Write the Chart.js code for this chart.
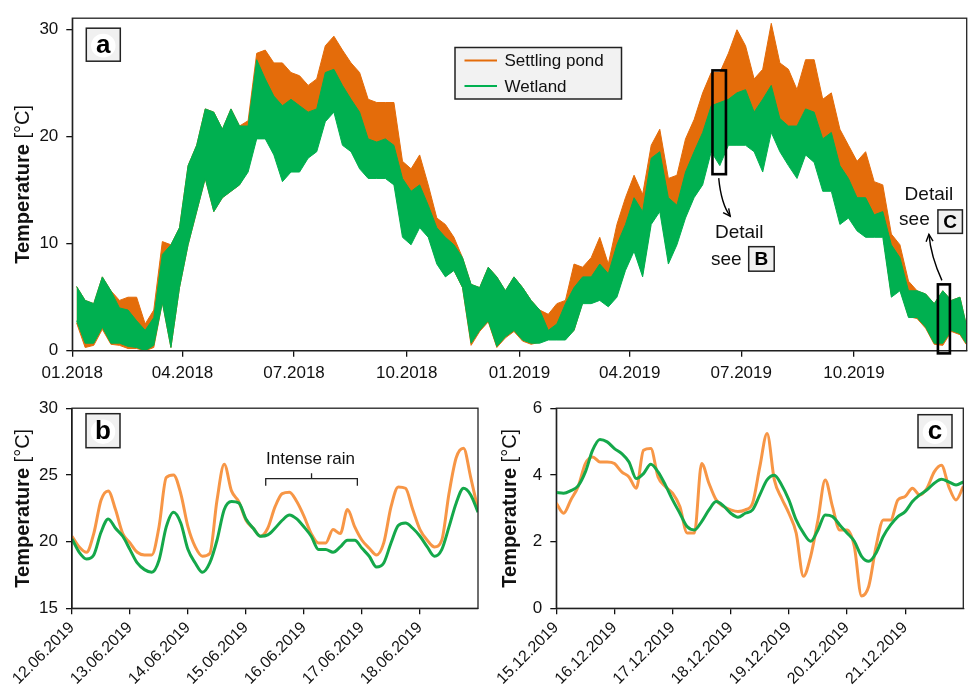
<!DOCTYPE html>
<html>
<head>
<meta charset="utf-8">
<script src="https://cdn.jsdelivr.net/npm/chart.js@4.4.1/dist/chart.umd.min.js"></script>
<style>
  html, body { margin: 0; padding: 0; background: #fff; }
  #wrap { position: relative; width: 968px; height: 693px; overflow: hidden; background: #fff; }
  canvas { position: absolute; }
</style>
</head>
<body>
<div id="wrap">
  <canvas id="chartA" width="968" height="385" style="left:0;top:0"></canvas>
  <canvas id="chartB" width="485" height="303" style="left:0;top:390px"></canvas>
  <canvas id="chartC" width="484" height="303" style="left:484px;top:390px"></canvas>
</div>
<script>
// ---- panel a: weekly envelopes (day 0 = 01.01.2018), one value per week ----
const pondHighA = [6.0,4.7,4.4,6.9,5.6,4.7,5.0,5.0,2.5,3.8, 10.2,9.9,11.5,17.3,19.2,22.6,22.3,20.7,22.6,21.0,
  21.5,27.8,28.1,26.9,26.9,26.0,25.7,24.8,25.4,28.5, 29.4,28.1,26.9,26.0,23.5,23.2,23.2,23.2,17.7,17.0,
  18.3,15.5,12.4,11.8,10.6,8.7,6.2,5.9,7.8,6.9, 5.6,6.9,5.9,4.7,3.8,3.4,4.4,4.7,8.1,7.8,
  8.7,10.6,8.1,11.8,14.3,16.4,14.6,19.2,20.7,16.1, 16.4,19.8,21.6,24.1,26.0,26.0,27.8,30.0,28.5,25.4,
  26.3,30.6,26.9,26.3,24.4,27.2,27.2,23.5,24.1,20.7, 19.2,17.7,18.6,15.8,15.5,10.9,9.9,6.5,5.6,5.3,
  4.4,5.6,4.7,5.0,2.5];
const pondLowA = [2.6,0.3,0.5,2.0,0.6,0.5,0.2,0.2,0.0,0.3, 4.5,0.3,5.9,9.9,13.0,16.1,13.0,14.3,14.9,15.5,
  17.0,20.3,20.5,19.0,16.5,17.2,17.5,18.5,19.2,22.0, 23.0,20.0,19.3,17.6,16.8,16.8,16.8,16.0,11.0,10.2,
  11.8,10.8,8.3,7.0,7.5,5.9,0.5,1.8,2.7,0.3, 1.2,1.8,0.9,0.6,0.8,1.2,1.4,1.1,1.9,4.5,
  4.6,4.9,4.3,5.2,7.8,9.6,7.2,12.2,13.5,8.5, 10.3,12.9,14.9,16.2,19.4,18.0,20.0,20.0,20.0,19.4,
  17.5,21.2,19.4,18.0,16.8,19.0,18.3,15.5,15.5,12.3, 12.8,11.6,11.0,11.0,11.0,5.2,5.8,3.2,3.0,2.1,
  0.6,0.5,1.8,1.5,0.6];
const wetHighA = [6.0,4.7,4.4,6.9,5.6,4.0,3.8,2.8,1.9,3.1, 9.0,9.9,11.5,17.3,19.2,22.6,22.3,20.7,22.6,21.0,
  21.0,27.2,25.4,23.8,22.9,23.5,22.9,22.3,22.6,26.0, 26.3,24.8,23.5,22.3,19.8,19.5,19.8,19.2,16.1,14.9,
  15.5,13.6,11.5,10.6,9.9,8.7,6.2,5.9,7.8,6.9, 5.6,6.9,5.9,4.7,3.8,1.9,2.5,4.4,5.9,6.9,
  6.9,8.1,7.2,9.9,11.8,14.3,13.0,18.0,18.6,14.3, 13.6,16.7,18.6,20.4,22.9,23.2,23.5,24.1,24.4,22.3,
  23.5,24.8,21.7,21.0,21.0,22.6,22.3,19.8,20.4,17.3, 16.1,14.3,14.3,12.7,13.0,9.9,8.7,5.6,5.6,5.3,
  4.4,5.6,4.7,5.0,2.5];
const wetLowA = [2.8,0.7,0.7,2.2,0.7,0.7,0.4,0.3,0.0,0.5, 4.5,0.3,5.9,9.9,13.0,16.1,13.0,14.3,14.9,15.5,
  16.7,19.8,19.8,18.3,15.8,16.7,16.7,18.0,18.6,21.4, 22.3,19.2,18.6,17.0,16.1,16.1,16.1,15.5,10.6,9.9,
  11.5,10.6,8.1,6.9,7.5,5.9,0.7,1.9,2.8,0.4, 1.3,1.9,1.0,0.7,0.7,1.0,1.0,1.0,1.9,4.4,
  4.4,4.7,4.1,5.0,7.5,9.3,6.9,11.8,13.0,8.1, 9.9,12.4,14.3,15.5,18.6,17.3,19.2,19.2,19.2,18.6,
  16.7,20.4,18.6,17.3,16.1,18.3,17.6,14.9,14.9,11.8, 12.4,11.2,10.6,10.6,10.6,5.0,5.6,3.1,3.1,2.2,
  0.7,0.7,1.9,1.6,0.7];
const monthDaysA = [0, 90, 181, 273, 365, 455, 546, 638];
const monthLabelsA = ['01.2018','04.2018','07.2018','10.2018','01.2019','04.2019','07.2019','10.2019'];
const yTicksA = [0, 10, 20, 30];

// ---- panel b: 12.06.-19.06.2019, one value every 3 hours ----
const pondB = [20.4,19.6,19.2,20.6,23.1,23.8,22.4,20.6,19.9,19.2,19.0,19.0,21.1,24.8,25.0,23.6,21.1,19.6,18.9,19.1,
  23.1,25.8,23.8,23.0,21.6,21.0,20.4,21.0,22.6,23.6,23.7,23.0,21.9,20.6,19.9,19.9,20.9,20.6,22.4,21.1,
  20.1,19.5,19.0,19.9,22.6,24.1,24.0,22.4,20.9,20.1,19.6,20.1,23.6,26.3,27.0,24.8,22.4];
const wetB = [20.2,19.2,18.7,19.0,20.7,21.7,21.0,20.4,19.4,18.4,17.9,17.7,18.6,21.1,22.2,21.4,19.4,18.4,17.7,18.4,
  20.1,22.4,23.0,22.9,21.7,21.0,20.4,20.5,21.0,21.6,22.0,21.7,21.1,20.4,19.4,19.4,19.2,19.6,20.1,20.1,
  19.5,18.9,18.1,18.4,19.9,21.2,21.4,21.0,20.4,19.6,18.9,19.4,21.1,22.9,24.0,23.5,22.2];
const dayLabelsB = ['12.06.2019','13.06.2019','14.06.2019','15.06.2019','16.06.2019','17.06.2019','18.06.2019'];
const yTicksB = [15, 20, 25, 30];

// ---- panel c: 15.12.-22.12.2019, one value every 3 hours ----
const pondC = [3.15,2.85,3.25,3.65,4.34,4.54,4.39,4.39,4.34,4.09,3.94,3.60,4.74,4.79,3.94,3.65,3.45,3.05,2.26,2.26,
  4.34,3.75,3.25,3.05,2.95,2.90,2.95,3.15,4.24,5.24,3.85,3.30,2.85,2.26,0.96,1.56,2.65,3.85,3.05,2.35,
  2.35,1.86,0.37,0.67,1.86,2.65,2.65,3.25,3.35,3.60,3.40,3.60,4.09,4.29,3.65,3.25,3.65];
const wetC = [3.47,3.45,3.53,3.67,4.09,4.74,5.06,4.99,4.79,4.64,4.39,3.89,4.04,4.32,4.09,3.70,3.25,2.85,2.45,2.35,
  2.60,2.95,3.20,3.07,2.85,2.73,2.85,2.95,3.40,3.85,3.99,3.70,3.25,2.65,2.26,2.01,2.35,2.80,2.75,2.50,
  2.26,2.01,1.56,1.41,1.66,2.16,2.50,2.75,2.90,3.20,3.40,3.55,3.75,3.87,3.79,3.70,3.79];
const dayLabelsC = ['15.12.2019','16.12.2019','17.12.2019','18.12.2019','19.12.2019','20.12.2019','21.12.2019'];
const yTicksC = [0, 2, 4, 6];

const ORANGE_A = '#e46c0a', GREEN_A = '#00b050';
const ORANGE = '#f79646', GREEN = '#14a84a';
const INK = '#111';
const FONT = '"Liberation Sans", Arial, sans-serif';

Chart.defaults.font.family = FONT;
Chart.defaults.color = INK;
Chart.defaults.animation = false;

const weekPts = arr => arr.map((v, i) => ({ x: Math.min(i * 7 + 3.5, 729.5), y: v }));
const hourPts = arr => arr.map((v, i) => ({ x: i / 8, y: v }));

function yAxis(min, max, ticks, width) {
  return {
    min, max,
    afterFit: s => { s.width = width; },
    afterBuildTicks: s => { s.ticks = ticks.map(v => ({ value: v })); },
    ticks: { color: INK, font: { size: 17 }, padding: 8 },
    grid: { drawOnChartArea: false, tickLength: 6, color: INK, lineWidth: 1.3 },
    border: { color: INK, width: 1.3 }
  };
}

function xAxis(max, vals, labels, height, rot, size) {
  return {
    type: 'linear', min: 0, max,
    afterFit: s => { s.height = height; },
    afterBuildTicks: s => { s.ticks = vals.map(v => ({ value: v })); },
    ticks: {
      autoSkip: false, minRotation: rot, maxRotation: rot,
      color: INK, font: { size }, padding: rot ? 4 : 6,
      callback: (v, i) => labels[i]
    },
    grid: { drawOnChartArea: false, tickLength: 6, color: INK, lineWidth: 1.3 },
    border: { color: INK, width: 1.3 }
  };
}

// frame, axis title and the panel letter
function drawFrame(chart) {
  const a = chart.chartArea, ctx = chart.ctx;
  ctx.save();
  ctx.strokeStyle = '#222';
  ctx.lineWidth = 1.3;
  ctx.strokeRect(a.left, a.top, a.right - a.left, a.bottom - a.top);
  ctx.restore();
}

function drawYTitle(chart, x) {
  const a = chart.chartArea, ctx = chart.ctx;
  const cy = (a.top + a.bottom) / 2;
  ctx.save();
  ctx.translate(x, cy);
  ctx.rotate(-Math.PI / 2);
  ctx.textBaseline = 'middle';
  ctx.fillStyle = INK;
  ctx.font = 'bold 20px ' + FONT;
  const w1 = ctx.measureText('Temperature').width;
  ctx.font = '20px ' + FONT;
  const w2 = ctx.measureText(' [°C]').width;
  let sx = -(w1 + w2) / 2;
  ctx.font = 'bold 20px ' + FONT;
  ctx.fillText('Temperature', sx, 0);
  ctx.font = '20px ' + FONT;
  ctx.fillText(' [°C]', sx + w1, 0);
  ctx.restore();
}

function drawTag(ctx, x, y, w, h, text, size, halo) {
  ctx.save();
  ctx.fillStyle = '#f0f0f0';
  ctx.fillRect(x, y, w, h);
  if (halo) {
    ctx.fillStyle = '#fff';
    ctx.beginPath();
    ctx.ellipse(x + w / 2, y + h / 2 + 1, w * 0.36, h * 0.36, 0, 0, Math.PI * 2);
    ctx.fill();
  }
  ctx.strokeStyle = '#222';
  ctx.lineWidth = 1.5;
  ctx.strokeRect(x, y, w, h);
  ctx.fillStyle = '#000';
  ctx.font = 'bold ' + size + 'px ' + FONT;
  ctx.textAlign = 'center';
  ctx.textBaseline = 'middle';
  ctx.fillText(text, x + w / 2, y + h / 2 + 1);
  ctx.restore();
}

function arrow(ctx, x0, y0, cx, cy, x1, y1) {
  ctx.beginPath();
  ctx.moveTo(x0, y0);
  ctx.quadraticCurveTo(cx, cy, x1, y1);
  ctx.stroke();
  const ang = Math.atan2(y1 - cy, x1 - cx), L = 8;
  ctx.beginPath();
  ctx.moveTo(x1 - L * Math.cos(ang - 0.45), y1 - L * Math.sin(ang - 0.45));
  ctx.lineTo(x1, y1);
  ctx.lineTo(x1 - L * Math.cos(ang + 0.45), y1 - L * Math.sin(ang + 0.45));
  ctx.stroke();
}

// detail boxes in data units (day, °C)
const boxB = { x0: 522.5, x1: 533.5, y0: 16.5, y1: 26.2 };
const boxC = { x0: 706.5, x1: 716.3, y0: -0.25, y1: 6.2 };

const panelAExtras = {
  id: 'panelAExtras',
  afterDraw(chart) {
    const ctx = chart.ctx, a = chart.chartArea;
    const xs = chart.scales.x, ys = chart.scales.y;
    drawFrame(chart);
    drawYTitle(chart, 23);
    drawTag(ctx, a.left + 14, a.top + 10, 34, 33, 'a', 26, true);

    // legend
    ctx.save();
    ctx.fillStyle = '#f2f2f2';
    ctx.fillRect(455, 47.5, 166.5, 51.5);
    ctx.strokeStyle = '#222';
    ctx.lineWidth = 1.5;
    ctx.strokeRect(455, 47.5, 166.5, 51.5);
    const items = chart.data.datasets.filter(d => d.label);
    ctx.font = '17px ' + FONT;
    ctx.textBaseline = 'middle';
    items.forEach((d, i) => {
      const ly = 60.5 + i * 25.5;
      ctx.strokeStyle = d.borderColor;
      ctx.lineWidth = 2;
      ctx.beginPath(); ctx.moveTo(464.5, ly); ctx.lineTo(497, ly); ctx.stroke();
      ctx.fillStyle = INK;
      ctx.fillText(d.label, 504.5, ly + 1);
    });
    ctx.restore();

    // detail boxes, arrows, notes
    ctx.save();
    ctx.strokeStyle = '#000';
    ctx.fillStyle = INK;
    [boxB, boxC].forEach(b => {
      const px0 = xs.getPixelForValue(b.x0), px1 = xs.getPixelForValue(b.x1);
      const py0 = ys.getPixelForValue(b.y1), py1 = ys.getPixelForValue(b.y0);
      ctx.lineWidth = 2.6;
      ctx.strokeRect(px0, py0, px1 - px0, py1 - py0);
    });
    ctx.lineWidth = 1.4;
    const bx = (xs.getPixelForValue(boxB.x0) + xs.getPixelForValue(boxB.x1)) / 2;
    const bb = ys.getPixelForValue(boxB.y0);
    arrow(ctx, bx - 0.5, bb + 4, bx + 2, bb + 30, bx + 11, bb + 42);
    ctx.font = '19px ' + FONT;
    ctx.textAlign = 'center';
    ctx.textBaseline = 'alphabetic';
    ctx.fillText('Detail', bx + 20, bb + 64);
    ctx.fillText('see', bx + 7, bb + 90.5);
    const cx = (xs.getPixelForValue(boxC.x0) + xs.getPixelForValue(boxC.x1)) / 2;
    const ct = ys.getPixelForValue(boxC.y1);
    arrow(ctx, cx - 2, ct - 4, cx - 13, ct - 28, cx - 15, ct - 50);
    ctx.fillText('Detail', cx - 15, ct - 84);
    ctx.fillText('see', cx - 29.5, ct - 59);
    ctx.restore();
    drawTag(ctx, bx + 29.5, bb + 72.5, 25.5, 24.5, 'B', 19, false);
    drawTag(ctx, cx - 6, ct - 74.5, 24.5, 23.5, 'C', 19, false);
  }
};

new Chart(document.getElementById('chartA'), {
  type: 'line',
  data: {
    datasets: [
      { label: '', data: weekPts(pondLowA), borderColor: ORANGE_A, borderWidth: 1, fill: false, order: 2 },
      { label: 'Settling pond', data: weekPts(pondHighA), borderColor: ORANGE_A, backgroundColor: ORANGE_A,
        borderWidth: 1, fill: '-1', order: 2 },
      { label: '', data: weekPts(wetLowA), borderColor: GREEN_A, borderWidth: 1, fill: false, order: 1 },
      { label: 'Wetland', data: weekPts(wetHighA), borderColor: GREEN_A, backgroundColor: GREEN_A,
        borderWidth: 1, fill: '-1', order: 1 }
    ]
  },
  options: {
    responsive: false,
    elements: { point: { radius: 0 }, line: { tension: 0 } },
    layout: { padding: { left: 11, right: 1.3, top: 15, bottom: 0 } },
    scales: {
      x: xAxis(730, monthDaysA, monthLabelsA, 34.3, 0, 17),
      y: yAxis(0, 31.08, yTicksA, 61.3)
    },
    plugins: { legend: { display: false }, tooltip: { enabled: false } }
  },
  plugins: [panelAExtras]
});

// panel b
const panelBExtras = {
  id: 'panelBExtras',
  afterDraw(chart) {
    const ctx = chart.ctx, a = chart.chartArea;
    const xs = chart.scales.x, ys = chart.scales.y;
    drawFrame(chart);
    drawYTitle(chart, 23);
    drawTag(ctx, a.left + 14, a.top + 5.5, 34, 34, 'b', 26, true);
    // intense rain bracket
    const x0 = xs.getPixelForValue(3.34), x1 = xs.getPixelForValue(4.92);
    const yb = ys.getPixelForValue(24.72);
    const xm = (x0 + x1) / 2;
    ctx.save();
    ctx.strokeStyle = '#222';
    ctx.lineWidth = 1.3;
    ctx.beginPath();
    ctx.moveTo(x0, yb + 7); ctx.lineTo(x0, yb); ctx.lineTo(x1, yb); ctx.lineTo(x1, yb + 7);
    ctx.moveTo(xm, yb); ctx.lineTo(xm, yb - 5.5);
    ctx.stroke();
    ctx.fillStyle = INK;
    ctx.font = '17px ' + FONT;
    ctx.textAlign = 'center';
    ctx.textBaseline = 'alphabetic';
    ctx.fillText('Intense rain', xm - 1, yb - 14.5);
    ctx.restore();
  }
};

new Chart(document.getElementById('chartB'), {
  type: 'line',
  data: {
    datasets: [
      { label: 'Wetland', data: hourPts(wetB), borderColor: GREEN, borderWidth: 3, order: 1 },
      { label: 'Settling pond', data: hourPts(pondB), borderColor: ORANGE, borderWidth: 3, order: 2 }
    ]
  },
  options: {
    responsive: false,
    elements: { point: { radius: 0 }, line: { cubicInterpolationMode: 'monotone', fill: false } },
    layout: { padding: { left: 10, right: 7, top: 17.7, bottom: 0 } },
    scales: {
      x: xAxis(7, [0, 1, 2, 3, 4, 5, 6], dayLabelsB, 84.7, 45, 16),
      y: yAxis(15, 30, yTicksB, 62)
    },
    plugins: { legend: { display: false }, tooltip: { enabled: false } }
  },
  plugins: [panelBExtras]
});

// panel c
const panelCExtras = {
  id: 'panelCExtras',
  afterDraw(chart) {
    const a = chart.chartArea;
    drawFrame(chart);
    drawYTitle(chart, 26);
    drawTag(chart.ctx, a.right - 45.3, a.top + 6.5, 34, 33, 'c', 26, true);
  }
};

new Chart(document.getElementById('chartC'), {
  type: 'line',
  data: {
    datasets: [
      { label: 'Wetland', data: hourPts(wetC), borderColor: GREEN, borderWidth: 3, order: 1 },
      { label: 'Settling pond', data: hourPts(pondC), borderColor: ORANGE, borderWidth: 3, order: 2 }
    ]
  },
  options: {
    responsive: false,
    elements: { point: { radius: 0 }, line: { cubicInterpolationMode: 'monotone', fill: false } },
    layout: { padding: { left: 13, right: 4.7, top: 17.7, bottom: 0 } },
    scales: {
      x: xAxis(7, [0, 1, 2, 3, 4, 5, 6], dayLabelsC, 84.7, 45, 16),
      y: yAxis(0, 6, yTicksC, 59.3)
    },
    plugins: { legend: { display: false }, tooltip: { enabled: false } }
  },
  plugins: [panelCExtras]
});
</script>
</body>
</html>
